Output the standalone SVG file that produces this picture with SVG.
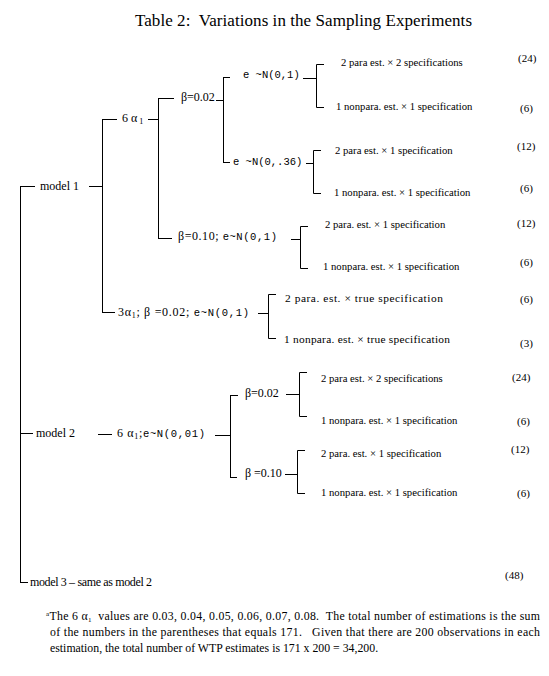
<svg xmlns="http://www.w3.org/2000/svg" width="549" height="676" viewBox="0 0 549 676">
<style>
text{font-family:"Liberation Serif","Times New Roman",serif;fill:#000;font-size:10.7px}
.t{font-size:17px}
.m{font-size:12px}
.mono{font-family:"Liberation Mono","Courier New",monospace;font-size:10.5px}
.n{font-size:11px}
.w{font-size:11.4px}
.f{font-size:11.8px}
.c{fill:none;stroke:#000;stroke-width:1}
</style>
<rect width="549" height="676" fill="#fff"/>
<text id="title" class="t" x="135" y="26" xml:space="preserve" textLength="337">Table 2:  Variations in the Sampling Experiments</text>
<g id="connectors" class="c">
<path d="M20.5,186 V582.5 M20,186.5 H35 M20,433.5 H33 M20,582.5 H28"/>
<path d="M89,186.5 H102.5 M102.5,119 V313 M102,119.5 H117 M102,312.5 H115"/>
<path d="M148,119.5 H159 M158.5,98 V239 M158,98.5 H174 M158,238.5 H172"/>
<path d="M216,100.5 H223 M223.5,77 V163 M223,77.5 H230 M223,162.5 H230"/>
<path d="M303,78.5 H316 M324,64.5 H316.5 V107.5 H324"/>
<path d="M306,163.5 H313 M321,150.5 H313.5 V193.5 H321"/>
<path d="M291,239.5 H300 M308,226.5 H300.5 V268.5 H308"/>
<path d="M258,313.5 H268 M276,294.5 H268.5 V338.5 H276"/>
<path d="M98,434.5 H112 M215,435.5 H230 M230.5,395 V478 M230,395.5 H238 M230,477.5 H237"/>
<path d="M286,394.5 H299 M307,372.5 H299.5 V416.5 H307"/>
<path d="M285,474.5 H297 M305,450.5 H297.5 V493.5 H305"/>
</g>
<g id="model1"><text class="m" x="40" y="190">model 1</text></g>
<g id="model2"><text class="m" x="36" y="437">model 2</text></g>
<g id="model3"><text class="m" x="30" y="586" textLength="122">model 3 – same as model 2</text></g>
<g id="alpha6"><text class="m" x="122" y="122">6 α<tspan font-size="8" dy="2"> 1</tspan></text></g>
<g id="beta002"><text class="m" x="181" y="101">β=0.02</text></g>
<g id="eN01"><text class="mono" x="243" y="78">e ~N(0,1)</text></g>
<g id="eN036"><text class="mono" x="233" y="165">e ~N(0,.36)</text></g>
<g id="beta010"><text class="m" x="178" y="240" textLength="99">β=0.10; <tspan class="mono">e~N(0,1)</tspan></text></g>
<g id="alpha3"><text class="m" x="118" y="316" textLength="131">3α<tspan font-size="8" dy="2">1</tspan><tspan dy="-2">; β =0.02; </tspan><tspan class="mono">e~N(0,1)</tspan></text></g>
<g id="m2alpha"><text class="m" x="117" y="437" textLength="88">6 α<tspan font-size="8" dy="2">1</tspan><tspan dy="-2">;</tspan><tspan class="mono">e~N(0,01)</tspan></text></g>
<g id="m2beta002"><text class="m" x="245" y="397">β=0.02</text></g>
<g id="m2beta010"><text class="m" x="245" y="477">β =0.10</text></g>
<g id="r1"><text x="341" y="66">2 para est. × 2 specifications</text><text class="n" x="518" y="62">(24)</text></g>
<g id="r2"><text x="336" y="110">1 nonpara. est. × 1 specification</text><text class="n" x="520" y="112">(6)</text></g>
<g id="r3"><text x="335" y="154">2 para est. × 1 specification</text><text class="n" x="517" y="150">(12)</text></g>
<g id="r4"><text x="334" y="196">1 nonpara. est. × 1 specification</text><text class="n" x="520" y="192">(6)</text></g>
<g id="r5"><text x="325" y="228">2 para. est. × 1 specification</text><text class="n" x="517" y="227">(12)</text></g>
<g id="r6"><text x="323" y="270">1 nonpara. est. × 1 specification</text><text class="n" x="520" y="266">(6)</text></g>
<g id="r7"><text class="w" x="285" y="302" textLength="158">2 para. est. × true specification</text><text class="n" x="520" y="303">(6)</text></g>
<g id="r8"><text class="w" x="284" y="343" textLength="166">1 nonpara. est. × true specification</text><text class="n" x="520" y="347">(3)</text></g>
<g id="r9"><text x="321" y="382">2 para est. × 2 specifications</text><text class="n" x="512" y="381">(24)</text></g>
<g id="r10"><text x="321" y="424">1 nonpara. est. × 1 specification</text><text class="n" x="517" y="425">(6)</text></g>
<g id="r11"><text x="321" y="457">2 para. est. × 1 specification</text><text class="n" x="511" y="453">(12)</text></g>
<g id="r12"><text x="321" y="496">1 nonpara. est. × 1 specification</text><text class="n" x="517" y="497">(6)</text></g>
<g id="r13"><text class="n" x="505" y="579">(48)</text></g>
<g id="footnote">
<text class="f" x="46" y="620" textLength="494" xml:space="preserve"><tspan font-size="7" dy="-4">a</tspan><tspan dy="4">The 6 α</tspan><tspan font-size="7" dy="2">1</tspan><tspan dy="-2">  values are 0.03, 0.04, 0.05, 0.06, 0.07, 0.08.  The total number of estimations is the sum</tspan></text>
<text class="f" x="50" y="636" textLength="490" xml:space="preserve">of the numbers in the parentheses that equals 171.   Given that there are 200 observations in each</text>
<text class="f" x="50" y="652">estimation, the total number of WTP estimates is 171 x 200 = 34,200.</text>
</g>
</svg>
